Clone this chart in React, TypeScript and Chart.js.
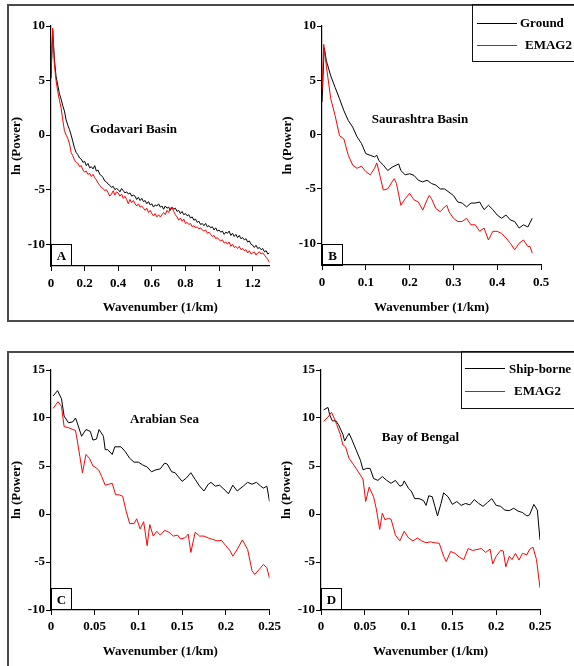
import React, { useEffect, useRef } from "react";
import { Chart, registerables } from "chart.js";

Chart.register(...registerables);

const FONT = "'Liberation Serif', 'Times New Roman', Times, serif";

// ---------- Panel A: Godavari Basin (x step 0.01 from 0 to 1.3) ----------
const aGround = [
  5.2, 9.6, 7.0, 5.4, 4.6, 3.8, 3.3, 2.7, 2.2, 1.4,
  0.9, 0.5, 0.0, -0.6, -1.2, -1.6, -1.8, -2.1, -2.2, -2.5,
  -2.4, -2.8, -2.6, -3.0, -2.9, -3.1, -2.8, -3.3, -3.2, -3.6,
  -3.7, -3.9, -4.2, -4.3, -4.5, -4.6, -4.8, -4.7, -5.0, -4.9,
  -5.0, -5.2, -4.9, -5.1, -5.3, -5.2, -5.4, -5.3, -5.6, -5.5,
  -5.6, -5.9, -5.7, -6.0, -5.8, -6.1, -6.0, -6.3, -6.1, -6.4,
  -6.3, -6.6, -6.4, -6.5, -6.3, -6.6, -6.5, -6.8, -6.5, -6.7,
  -6.6, -6.9, -6.6, -6.8, -6.7, -7.0, -6.9, -7.2, -7.0, -7.3,
  -7.2, -7.4, -7.3, -7.6, -7.5, -7.8, -7.7, -8.0, -7.9, -8.2,
  -8.1, -8.3, -8.1, -8.4, -8.3, -8.5, -8.4, -8.7, -8.5, -8.8,
  -8.7, -8.9, -8.8, -9.1, -8.9, -9.0, -8.8, -9.2, -9.0, -9.3,
  -9.1, -9.4, -9.2, -9.5, -9.4, -9.6, -9.5, -9.8, -9.7, -10.0,
  -10.1, -10.3, -10.1, -10.4, -10.3, -10.5, -10.4, -10.7, -10.6, -10.9,
  -10.8,
];
const aEmag = [
  5.6, 9.8, 6.5, 5.0, 4.0, 3.2, 2.5, 1.4, 0.4, 0.0,
  -0.3, -0.8, -1.6, -1.9, -2.3, -2.5, -2.6, -2.9, -2.8, -3.2,
  -3.4, -3.3, -3.6, -3.5, -3.8, -3.6, -3.9, -4.1, -4.4, -4.6,
  -4.8, -4.9, -5.1, -5.0, -5.3, -5.6, -5.4, -5.1, -5.5, -5.2,
  -5.3, -5.6, -5.4, -5.8, -5.6, -5.9, -6.3, -5.9, -6.2, -6.0,
  -6.3, -6.5, -6.3, -6.6, -6.5, -6.7, -6.9, -6.7, -7.1, -6.9,
  -7.2, -7.4, -7.2, -7.5, -7.3, -7.5, -7.3, -7.1, -7.3, -6.9,
  -7.1, -6.7, -6.6, -7.0, -7.3, -7.5, -7.8, -7.6, -7.9, -7.7,
  -8.1, -8.0, -8.2, -8.1, -8.4, -8.3, -8.5, -8.4, -8.6, -8.5,
  -8.7, -8.8, -8.7, -9.0, -8.9, -9.1, -9.3, -9.2, -9.5, -9.4,
  -9.6, -9.7, -9.6, -9.9, -9.8, -10.0, -9.8, -10.2, -10.0, -10.3,
  -10.2, -10.4, -10.2, -10.5, -10.4, -10.6, -10.5, -10.8, -10.6, -10.9,
  -10.8, -10.7, -11.0, -10.8, -10.7, -10.9, -10.8, -11.0, -11.2, -11.4,
  -11.7,
];
const aX = aGround.map((_, i) => i / 100);

// ---------- Panel B: Saurashtra Basin ----------
const bGroundX = [0, 0.005, 0.01, 0.02, 0.03, 0.04, 0.05, 0.06, 0.07, 0.08, 0.09, 0.1, 0.11, 0.12, 0.125, 0.13, 0.14, 0.15, 0.16, 0.17, 0.175, 0.18, 0.19, 0.2, 0.21, 0.22, 0.23, 0.24, 0.25, 0.26, 0.27, 0.28, 0.29, 0.3, 0.31, 0.32, 0.33, 0.34, 0.35, 0.36, 0.37, 0.38, 0.39, 0.4, 0.41, 0.42, 0.43, 0.44, 0.45, 0.46, 0.47, 0.48];
const bGroundY = [3.0, 8.0, 6.8, 5.4, 4.35, 3.3, 2.2, 1.3, 0.7, -0.2, -0.8, -1.75, -1.9, -2.05, -1.9, -2.4, -2.8, -3.3, -3.0, -2.8, -2.7, -3.3, -3.7, -3.6, -3.75, -4.2, -4.35, -4.2, -4.5, -4.65, -5.0, -5.0, -5.3, -5.6, -6.2, -6.3, -6.65, -6.3, -6.3, -6.2, -6.9, -6.5, -6.9, -7.4, -7.7, -7.4, -7.85, -8.0, -8.6, -8.3, -8.5, -7.7];
const bEmagX = [0, 0.004, 0.01, 0.02, 0.03, 0.04, 0.05, 0.06, 0.07, 0.08, 0.09, 0.1, 0.11, 0.12, 0.125, 0.13, 0.14, 0.15, 0.16, 0.165, 0.17, 0.18, 0.19, 0.2, 0.21, 0.22, 0.23, 0.24, 0.245, 0.25, 0.26, 0.27, 0.28, 0.285, 0.29, 0.3, 0.31, 0.32, 0.33, 0.34, 0.35, 0.36, 0.37, 0.38, 0.39, 0.4, 0.41, 0.42, 0.43, 0.44, 0.45, 0.46, 0.47, 0.475, 0.48];
const bEmagY = [4.0, 8.3, 6.3, 3.3, 1.75, -0.1, -0.4, -1.9, -2.8, -3.1, -2.9, -3.4, -3.7, -3.1, -2.6, -3.4, -5.1, -5.0, -4.35, -4.05, -4.5, -6.5, -5.9, -5.4, -6.0, -6.2, -6.95, -6.0, -5.6, -5.9, -6.8, -7.1, -6.65, -6.5, -7.1, -7.7, -8.0, -8.0, -7.7, -8.3, -8.3, -8.9, -8.6, -9.7, -8.9, -8.9, -9.1, -9.5, -10.0, -10.6, -10.0, -9.7, -10.3, -10.3, -10.9];

// ---------- Panel C: Arabian Sea ----------
const cShipX = [0.0025, 0.0075, 0.012, 0.015, 0.02, 0.025, 0.028, 0.03, 0.035, 0.04, 0.045, 0.048, 0.052, 0.055, 0.06, 0.062, 0.065, 0.07, 0.073, 0.08, 0.085, 0.09, 0.095, 0.1, 0.105, 0.11, 0.115, 0.12, 0.125, 0.13, 0.133, 0.138, 0.142, 0.15, 0.155, 0.16, 0.165, 0.17, 0.175, 0.18, 0.183, 0.188, 0.193, 0.2, 0.203, 0.208, 0.213, 0.22, 0.225, 0.23, 0.235, 0.24, 0.243, 0.247, 0.25];
const cShipY = [12.3, 12.85, 12.0, 10.2, 9.5, 9.6, 10.0, 9.5, 8.1, 8.8, 8.6, 7.7, 7.8, 8.8, 8.1, 6.7, 6.7, 6.2, 7.0, 7.0, 6.5, 5.8, 5.4, 5.4, 5.1, 4.9, 4.4, 4.6, 4.7, 5.3, 5.2, 4.4, 4.3, 3.4, 3.75, 4.3, 3.6, 2.9, 2.4, 3.1, 3.3, 2.9, 3.0, 2.4, 2.1, 3.0, 2.4, 2.9, 3.3, 3.1, 3.3, 2.9, 2.7, 2.9, 1.3];
const cEmagX = [0.0025, 0.008, 0.012, 0.015, 0.02, 0.025, 0.028, 0.03, 0.033, 0.036, 0.04, 0.044, 0.048, 0.052, 0.055, 0.058, 0.062, 0.066, 0.07, 0.074, 0.078, 0.082, 0.086, 0.09, 0.095, 0.098, 0.102, 0.106, 0.11, 0.113, 0.117, 0.121, 0.125, 0.13, 0.135, 0.14, 0.145, 0.148, 0.153, 0.157, 0.16, 0.165, 0.17, 0.175, 0.18, 0.185, 0.19, 0.195, 0.2, 0.205, 0.208, 0.213, 0.219, 0.225, 0.23, 0.233, 0.238, 0.243, 0.247, 0.25];
const cEmagY = [11.0, 11.7, 11.2, 9.1, 9.0, 8.8, 8.7, 7.7, 6.0, 4.3, 6.2, 5.8, 5.0, 4.8, 4.5, 3.9, 3.0, 3.1, 3.2, 2.0, 2.0, 1.85, 0.3, -1.0, -1.0, -0.5, -1.55, -0.8, -3.3, -1.1, -2.3, -1.8, -2.2, -1.7, -1.9, -2.3, -2.2, -2.6, -2.5, -2.1, -4.0, -1.9, -2.3, -2.3, -2.5, -2.65, -2.8, -2.75, -3.3, -3.85, -4.4, -3.7, -2.7, -3.7, -5.9, -6.3, -5.8, -5.25, -5.6, -6.7];

// ---------- Panel D: Bay of Bengal ----------
const dShipX = [0.003, 0.008, 0.01, 0.013, 0.017, 0.02, 0.025, 0.027, 0.03, 0.032, 0.035, 0.04, 0.045, 0.048, 0.052, 0.056, 0.06, 0.065, 0.07, 0.075, 0.08, 0.085, 0.09, 0.093, 0.095, 0.1, 0.103, 0.107, 0.112, 0.117, 0.12, 0.123, 0.127, 0.13, 0.133, 0.137, 0.14, 0.145, 0.15, 0.155, 0.16, 0.165, 0.17, 0.175, 0.18, 0.185, 0.19, 0.195, 0.2, 0.205, 0.21, 0.215, 0.22, 0.225, 0.23, 0.235, 0.238, 0.243, 0.247, 0.25];
const dShipY = [10.85, 11.1, 10.3, 9.7, 9.7, 9.3, 8.3, 7.6, 8.1, 8.4, 7.8, 6.7, 5.6, 4.6, 4.75, 4.75, 3.7, 3.5, 3.9, 3.5, 3.2, 3.5, 2.9, 3.0, 3.45, 2.65, 2.4, 1.6, 1.6, 1.4, 0.9, 1.9, 1.8, 0.8, -0.2, 1.1, 2.2, 1.8, 1.0, 1.3, 0.9, 1.1, 0.95, 1.5, 1.1, 0.8, 1.2, 1.6, 0.9, 0.8, 0.4, 0.35, 0.6, 0.3, 0.15, -0.2, -0.1, 1.0, 0.4, -2.7];
const dEmagX = [0.003, 0.008, 0.012, 0.015, 0.018, 0.022, 0.025, 0.028, 0.032, 0.036, 0.04, 0.045, 0.048, 0.051, 0.055, 0.06, 0.063, 0.067, 0.07, 0.073, 0.077, 0.08, 0.085, 0.09, 0.095, 0.1, 0.105, 0.11, 0.115, 0.12, 0.125, 0.13, 0.135, 0.14, 0.143, 0.148, 0.153, 0.158, 0.163, 0.168, 0.173, 0.178, 0.183, 0.188, 0.193, 0.196, 0.2, 0.205, 0.208, 0.211, 0.215, 0.218, 0.222, 0.226, 0.23, 0.235, 0.238, 0.242, 0.246, 0.25];
const dEmagY = [9.65, 10.1, 10.6, 10.0, 9.3, 8.3, 7.2, 7.0, 5.8, 5.3, 4.75, 4.05, 3.6, 1.3, 2.8, 1.8, 0.6, -1.6, 0.1, -0.6, -0.45, -0.55, -2.2, -2.8, -1.8, -2.5, -2.8, -2.5, -2.8, -3.0, -2.9, -3.0, -3.05, -4.4, -4.95, -3.9, -4.1, -4.5, -4.75, -3.6, -3.8, -3.7, -3.6, -4.0, -3.65, -5.2, -4.4, -3.8, -3.85, -5.5, -4.4, -4.75, -4.1, -4.8, -4.1, -4.25, -3.7, -3.45, -4.75, -7.7];

// ---------- Ticks ----------
const ticksXA = [0, 0.2, 0.4, 0.6, 0.8, 1, 1.2];
const ticksXB = [0, 0.1, 0.2, 0.3, 0.4, 0.5];
const ticksXCD = [0, 0.05, 0.1, 0.15, 0.2, 0.25];
const ticksYAB = [-10, -5, 0, 5, 10];
const ticksYCD = [-10, -5, 0, 5, 10, 15];

const X_TITLE = "Wavenumber (1/km)";
const Y_TITLE = "ln (Power)";

type Series = { xs: number[]; ys: number[]; color: string; order: number };

type PanelProps = {
  left: number;
  top: number;
  width: number;
  height: number;
  padTop: number;
  padRight: number;
  yWidth: number;
  xHeight: number;
  xMin: number;
  xMax: number;
  yMin: number;
  yMax: number;
  xTicks: number[];
  yTicks: number[];
  xTickPad: number;
  xTitlePad: number;
  series: Series[];
};

const fmt = (v: number) => String(Number(v.toFixed(3)));

function Panel(p: PanelProps) {
  const ref = useRef<HTMLCanvasElement | null>(null);
  useEffect(() => {
    if (!ref.current) return;
    const font = { family: FONT, size: 13, weight: "bold" as const };
    const chart = new Chart(ref.current, {
      type: "line",
      data: {
        datasets: p.series.map((s) => ({
          data: s.xs.map((x, j) => ({ x, y: s.ys[j] })),
          borderColor: s.color,
          borderWidth: 1,
          pointRadius: 0,
          tension: 0,
          fill: false,
          order: s.order,
        })),
      },
      options: {
        animation: false,
        responsive: false,
        maintainAspectRatio: false,
        layout: { padding: { top: p.padTop, right: p.padRight, left: 0, bottom: 0 } },
        plugins: { legend: { display: false }, tooltip: { enabled: false } },
        scales: {
          x: {
            type: "linear",
            min: p.xMin,
            max: p.xMax,
            afterBuildTicks: (s: any) => {
              s.ticks = p.xTicks.map((v) => ({ value: v }));
            },
            afterFit: (s: any) => {
              s.height = p.xHeight;
            },
            grid: { display: true, drawOnChartArea: false, drawTicks: true, tickLength: 5, color: "#000", lineWidth: 1 },
            border: { display: true, color: "#000", width: 1.2 },
            ticks: {
              color: "#000",
              font,
              padding: p.xTickPad,
              maxRotation: 0,
              autoSkip: false,
              callback: (v: any) => fmt(Number(v)),
            },
            title: { display: true, text: X_TITLE, color: "#000", font, padding: { top: 0, bottom: p.xTitlePad } },
          },
          y: {
            type: "linear",
            min: p.yMin,
            max: p.yMax,
            afterBuildTicks: (s: any) => {
              s.ticks = p.yTicks.map((v) => ({ value: v }));
            },
            afterFit: (s: any) => {
              s.width = p.yWidth;
            },
            grid: { display: true, drawOnChartArea: false, drawTicks: true, tickLength: 5, color: "#000", lineWidth: 1 },
            border: { display: true, color: "#000", width: 1.2 },
            ticks: {
              color: "#000",
              font,
              padding: 1,
              autoSkip: false,
              callback: (v: any) => fmt(Number(v)),
            },
            title: { display: true, text: Y_TITLE, color: "#000", font, padding: { top: 9, bottom: 0 } },
          },
        },
      },
    } as any);
    return () => chart.destroy();
  }, []);
  return (
    <canvas
      ref={ref}
      width={p.width}
      height={p.height}
      style={{ position: "absolute", left: p.left, top: p.top, width: p.width, height: p.height }}
    />
  );
}

const txt: React.CSSProperties = {
  position: "absolute",
  fontFamily: FONT,
  fontWeight: "bold",
  fontSize: 13,
  color: "#000",
  whiteSpace: "nowrap",
  lineHeight: 1,
};

function Label({ x, y, text }: { x: number; y: number; text: string }) {
  return <div style={{ ...txt, left: x, top: y, transform: "translate(-50%, -50%)" }}>{text}</div>;
}

function LeftLabel({ x, y, text }: { x: number; y: number; text: string }) {
  return <div style={{ ...txt, left: x, top: y, transform: "translateY(-50%)" }}>{text}</div>;
}

function Line({ x, y, w, color }: { x: number; y: number; w: number; color: string }) {
  return <div style={{ position: "absolute", left: x, top: y, width: w, height: 1.3, background: color }} />;
}

function Letter({ x, y, w, h, text }: { x: number; y: number; w: number; h: number; text: string }) {
  return (
    <div
      style={{
        ...txt,
        left: x,
        top: y,
        width: w,
        height: h,
        boxSizing: "border-box",
        border: "1.5px solid #000",
        display: "flex",
        alignItems: "center",
        justifyContent: "center",
      }}
    >
      {text}
    </div>
  );
}

export default function App() {
  return (
    <div
      style={{
        position: "absolute",
        left: 0,
        top: 0,
        width: 574,
        height: 666,
        overflow: "hidden",
        background: "#fff",
      }}
    >
      {/* group frames */}
      <div style={{ position: "absolute", left: 7, top: 4, width: 640, height: 318, boxSizing: "border-box", border: "2px solid #4a4a4a" }} />
      <div style={{ position: "absolute", left: 7, top: 351, width: 640, height: 400, boxSizing: "border-box", border: "2px solid #4a4a4a" }} />

      <Panel
        left={0} top={0} width={285} height={330}
        padTop={26} padRight={15.5} yWidth={51} xHeight={64}
        xMin={0} xMax={1.3} yMin={-12} yMax={10}
        xTicks={ticksXA} yTicks={ticksYAB} xTickPad={5} xTitlePad={15}
        series={[
          { xs: aX, ys: aGround, color: "#000000", order: 2 },
          { xs: aX, ys: aEmag, color: "#ff0000", order: 1 },
        ]}
      />
      <Panel
        left={271} top={0} width={303} height={330}
        padTop={26} padRight={33} yWidth={51} xHeight={65}
        xMin={0} xMax={0.5} yMin={-12} yMax={10}
        xTicks={ticksXB} yTicks={ticksYAB} xTickPad={5} xTitlePad={15}
        series={[
          { xs: bGroundX, ys: bGroundY, color: "#000000", order: 2 },
          { xs: bEmagX, ys: bEmagY, color: "#ff0000", order: 1 },
        ]}
      />
      <Panel
        left={0} top={343} width={285} height={323}
        padTop={27} padRight={15.5} yWidth={51} xHeight={56}
        xMin={0} xMax={0.25} yMin={-10} yMax={15}
        xTicks={ticksXCD} yTicks={ticksYCD} xTickPad={4} xTitlePad={7}
        series={[
          { xs: cShipX, ys: cShipY, color: "#000000", order: 2 },
          { xs: cEmagX, ys: cEmagY, color: "#ff0000", order: 1 },
        ]}
      />
      <Panel
        left={270} top={343} width={304} height={323}
        padTop={27} padRight={34} yWidth={51} xHeight={56}
        xMin={0} xMax={0.25} yMin={-10} yMax={15}
        xTicks={ticksXCD} yTicks={ticksYCD} xTickPad={4} xTitlePad={7}
        series={[
          { xs: dShipX, ys: dShipY, color: "#000000", order: 2 },
          { xs: dEmagX, ys: dEmagY, color: "#ff0000", order: 1 },
        ]}
      />

      {/* panel annotations */}
      <Label x={133.5} y={128} text="Godavari Basin" />
      <Label x={420} y={118} text="Saurashtra Basin" />
      <Label x={164.5} y={418} text="Arabian Sea" />
      <Label x={420.5} y={436} text="Bay of Bengal" />

      {/* panel letters */}
      <Letter x={51} y={244} w={21} h={22} text="A" />
      <Letter x={322} y={244} w={21} h={22} text="B" />
      <Letter x={51} y={588} w={21} h={22} text="C" />
      <Letter x={321} y={588} w={21} h={22} text="D" />

      {/* legend B */}
      <div style={{ position: "absolute", left: 472, top: 4, width: 140, height: 58, boxSizing: "border-box", border: "1.5px solid #111" }} />
      <Line x={477} y={22.5} w={40} color="#000" />
      <LeftLabel x={520} y={22} text="Ground" />
      <Line x={477} y={45} w={40} color="#ff0000" />
      <LeftLabel x={525} y={44} text="EMAG2" />

      {/* legend D */}
      <div style={{ position: "absolute", left: 461, top: 351, width: 150, height: 58, boxSizing: "border-box", border: "1.5px solid #111" }} />
      <Line x={465} y={368} w={40} color="#000" />
      <LeftLabel x={509} y={368} text="Ship-borne" />
      <Line x={465} y={390.5} w={40} color="#ff0000" />
      <LeftLabel x={514} y={390} text="EMAG2" />
    </div>
  );
}
